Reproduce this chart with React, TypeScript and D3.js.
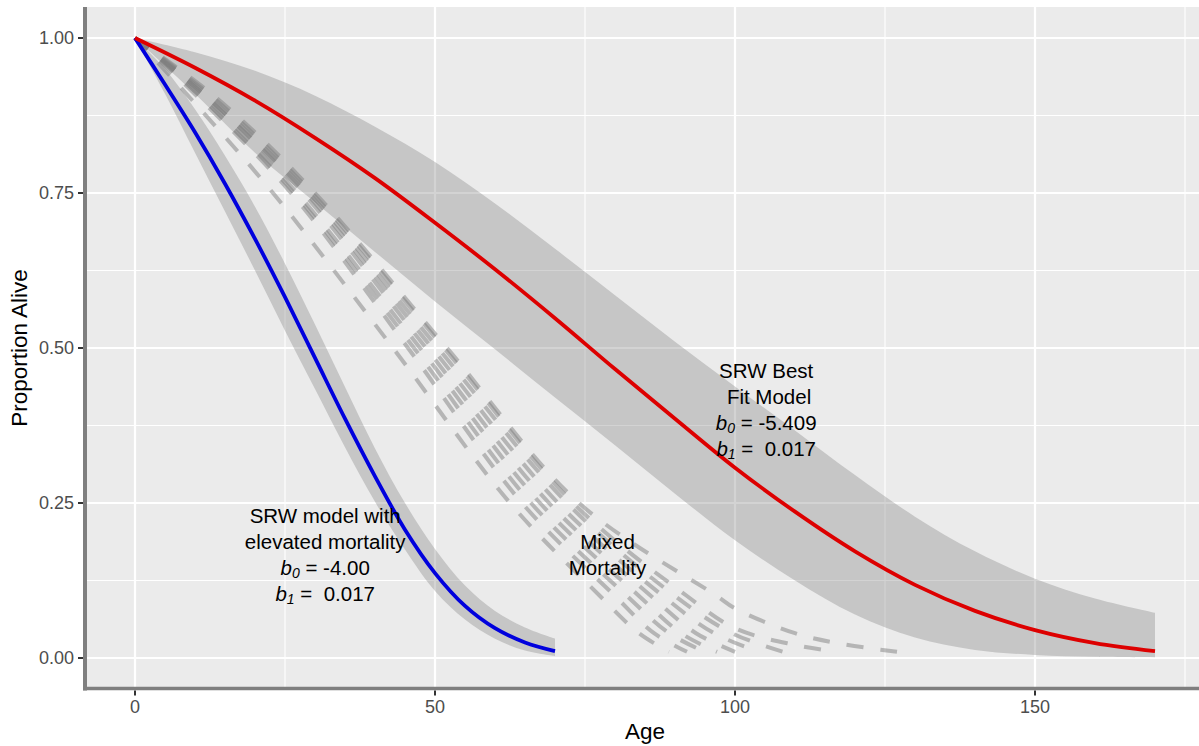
import React from 'react';
import * as d3 from 'd3';

// axis ticks
const xMajor = [0, 50, 100, 150];
const xMinor = [25, 75, 125, 175];
const yMajor = [0, 0.25, 0.5, 0.75, 1];
const yMinor = [0.125, 0.375, 0.625, 0.875];
const yTickLabels = ['0.00', '0.25', '0.50', '0.75', '1.00'];

// SRW best fit model (red) with its band
const redAges = [0, 10, 20, 30, 40, 50, 60, 70, 80, 90, 100, 110, 120, 130, 140, 150, 160, 170];
const redFit = [1.0, 0.952, 0.899, 0.839, 0.774, 0.702, 0.627, 0.548, 0.466, 0.386, 0.307, 0.236, 0.172, 0.118, 0.076, 0.045, 0.024, 0.011];
const redLower = [1.0, 0.91, 0.815, 0.735, 0.655, 0.575, 0.498, 0.42, 0.343, 0.265, 0.19, 0.125, 0.07, 0.033, 0.013, 0.005, 0.002, 0.001];
const redUpper = [1.0, 0.977, 0.947, 0.907, 0.857, 0.8, 0.733, 0.66, 0.585, 0.51, 0.438, 0.367, 0.295, 0.228, 0.172, 0.128, 0.096, 0.073];

// SRW model with elevated mortality (blue) with its band
const blueAges = [0, 5, 10, 15, 20, 25, 30, 35, 40, 45, 50, 55, 60, 65, 70];
const blueFit = [1.0, 0.925, 0.848, 0.765, 0.676, 0.582, 0.484, 0.386, 0.293, 0.207, 0.137, 0.084, 0.048, 0.025, 0.011];
const blueLower = [1.0, 0.91, 0.815, 0.72, 0.625, 0.528, 0.434, 0.34, 0.252, 0.175, 0.108, 0.062, 0.031, 0.012, 0.003];
const blueUpper = [1.0, 0.95, 0.885, 0.81, 0.728, 0.636, 0.538, 0.437, 0.338, 0.25, 0.176, 0.117, 0.076, 0.049, 0.031];

// mixed mortality runs: [age, proportion alive]
const mixed1: [number, number][] = [[0, 1], [9.5, 0.9], [23, 0.75], [43, 0.5], [62.5, 0.25], [77.5, 0.1], [84, 0.04], [89, 0.01]];
const mixed2: [number, number][] = [[0, 1], [11, 0.9], [26, 0.75], [45.5, 0.5], [64.5, 0.25], [80, 0.1], [86.5, 0.04], [92, 0.01]];
const mixed3: [number, number][] = [[0, 1], [11.5, 0.9], [26.5, 0.75], [46.5, 0.5], [66, 0.25], [82, 0.1], [89, 0.04], [95, 0.01]];
const mixed4: [number, number][] = [[0, 1], [12, 0.9], [27, 0.75], [47.5, 0.5], [67.5, 0.25], [84, 0.1], [91, 0.04], [97, 0.01]];
const mixed5: [number, number][] = [[0, 1], [12.5, 0.9], [28, 0.75], [48.5, 0.5], [69, 0.25], [86, 0.1], [93.5, 0.04], [100, 0.01]];
const mixed6: [number, number][] = [[0, 1], [12.5, 0.9], [28.5, 0.75], [49.5, 0.5], [70.5, 0.25], [88, 0.1], [96.5, 0.04], [104, 0.01]];
const mixed7: [number, number][] = [[0, 1], [13, 0.9], [29, 0.75], [50.5, 0.5], [72, 0.25], [90, 0.1], [99.5, 0.04], [108, 0.01]];
const mixed8: [number, number][] = [[0, 1], [13.5, 0.9], [29.5, 0.75], [51.5, 0.5], [73, 0.25], [92, 0.1], [100, 0.048], [110, 0.021], [117, 0.01]];
const mixed9: [number, number][] = [[0, 1], [14, 0.9], [30, 0.75], [52, 0.5], [74, 0.25], [97, 0.1], [100, 0.08], [110, 0.04], [117, 0.024], [127, 0.01]];
const mixedRuns = [mixed1, mixed2, mixed3, mixed4, mixed5, mixed6, mixed7, mixed8, mixed9];

// annotation text
const bestFitTitle = ['SRW Best', '\u00a0Fit Model'];
const bestFitCoef = ['-5.409', '\u00a00.017'];
const elevatedTitle = ['SRW model with', 'elevated mortality'];
const elevatedCoef = ['-4.00', '\u00a00.017'];
const mixedTitle = ['Mixed', 'Mortality'];

const FONT = '"Liberation Sans", Arial, Helvetica, sans-serif';
const LINE_H = 26;

const App: React.FC = () => {
    const width = 1199;
    const height = 746;
    const panel = { left: 84, right: 1206, top: 7, bottom: 689 };

    const x = d3.scaleLinear().domain([-8.5, 178.5]).range([panel.left, panel.right]);
    const y = d3.scaleLinear().domain([-0.05, 1.05]).range([panel.bottom, panel.top]);

    const smooth = d3.curveCatmullRom.alpha(0.5);

    const line = d3.line<[number, number]>()
        .x(d => x(d[0]))
        .y(d => y(d[1]))
        .curve(smooth);

    const bandPath = (ages: number[], lo: number[], hi: number[]) =>
        d3.area<number>()
            .x(i => x(ages[i]))
            .y0(i => y(lo[i]))
            .y1(i => y(hi[i]))
            .curve(smooth)(ages.map((_, i) => i)) || '';

    const zipPts = (ages: number[], vals: number[]) => ages.map((a, i) => [a, vals[i]] as [number, number]);

    // text block: titles plus optional b0/b1 lines, vertically centred on (age, value)
    const Block = ({ age, value, title, coef }: { age: number; value: number; title: string[]; coef?: string[] }) => {
        const n = title.length + (coef ? coef.length : 0);
        const cx = x(age);
        const cy = y(value);
        const base = (i: number) => cy + (i - (n - 1) / 2) * LINE_H + 7.4;
        return (
            <g fontFamily={FONT} fontSize={20.5} fill="#000" textAnchor="middle">
                {title.map((t, i) => (
                    <text key={'t' + i} x={cx} y={base(i)}>{t}</text>
                ))}
                {coef && coef.map((c, j) => (
                    <text key={'c' + j} x={cx} y={base(title.length + j)}>
                        <tspan fontStyle="italic">b</tspan>
                        <tspan fontStyle="italic" fontSize={14} dy={3}>{j}</tspan>
                        <tspan dy={-3}>{'\u00a0=\u00a0' + c}</tspan>
                    </text>
                ))}
            </g>
        );
    };

    return (
        <svg width={width} height={height} style={{ position: 'absolute', left: 0, top: 0, background: '#fff' }}>
            <defs>
                <clipPath id="panel-clip">
                    <rect x={panel.left} y={panel.top} width={panel.right - panel.left} height={panel.bottom - panel.top} />
                </clipPath>
            </defs>

            {/* panel */}
            <rect x={panel.left} y={panel.top} width={panel.right - panel.left} height={panel.bottom - panel.top} fill="#ebebeb" />
            {xMinor.map(v => (
                <line key={'xm' + v} x1={x(v)} x2={x(v)} y1={panel.top} y2={panel.bottom} stroke="#fff" strokeWidth={1.1} />
            ))}
            {yMinor.map(v => (
                <line key={'ym' + v} x1={panel.left} x2={panel.right} y1={y(v)} y2={y(v)} stroke="#fff" strokeWidth={1.1} />
            ))}
            {xMajor.map(v => (
                <line key={'xM' + v} x1={x(v)} x2={x(v)} y1={panel.top} y2={panel.bottom} stroke="#fff" strokeWidth={2.2} />
            ))}
            {yMajor.map(v => (
                <line key={'yM' + v} x1={panel.left} x2={panel.right} y1={y(v)} y2={y(v)} stroke="#fff" strokeWidth={2.2} />
            ))}

            <g clipPath="url(#panel-clip)">
                {/* confidence bands */}
                <path d={bandPath(redAges, redLower, redUpper)} fill="#7f7f7f" fillOpacity={0.34} />
                <path d={bandPath(blueAges, blueLower, blueUpper)} fill="#7f7f7f" fillOpacity={0.34} />

                {/* mixed mortality runs */}
                {mixedRuns.map((run, i) => (
                    <path key={'mx' + i} d={line(run) || ''} fill="none" stroke="#7f7f7f" strokeOpacity={0.5}
                        strokeWidth={4} strokeDasharray="17,17" />
                ))}

                {/* model fits */}
                <path d={line(zipPts(blueAges, blueFit)) || ''} fill="none" stroke="#0000dd" strokeWidth={3.8} />
                <path d={line(zipPts(redAges, redFit)) || ''} fill="none" stroke="#dd0000" strokeWidth={3.8} />
            </g>

            <Block age={105.2} value={0.4} title={bestFitTitle} coef={bestFitCoef} />
            <Block age={31.7} value={0.167} title={elevatedTitle} coef={elevatedCoef} />
            <Block age={78.75} value={0.167} title={mixedTitle} />

            {/* axis lines */}
            <line x1={85} x2={85} y1={panel.top} y2={690.5} stroke="#7f7f7f" strokeWidth={4} />
            <line x1={83} x2={width} y1={688.5} y2={688.5} stroke="#7f7f7f" strokeWidth={3.6} />

            {/* y axis */}
            {yMajor.map((v, i) => (
                <g key={'yt' + v}>
                    <line x1={78} x2={83} y1={y(v)} y2={y(v)} stroke="#333" strokeWidth={2} />
                    <text x={74} y={y(v)} dy="0.36em" textAnchor="end" fontFamily={FONT} fontSize={18} fill="#4d4d4d">
                        {yTickLabels[i]}
                    </text>
                </g>
            ))}
            {/* x axis */}
            {xMajor.map(v => (
                <g key={'xt' + v}>
                    <line x1={x(v)} x2={x(v)} y1={690.5} y2={695.5} stroke="#333" strokeWidth={2} />
                    <text x={x(v)} y={713} textAnchor="middle" fontFamily={FONT} fontSize={18} fill="#4d4d4d">
                        {v}
                    </text>
                </g>
            ))}

            <text x={(panel.left + panel.right) / 2} y={739} textAnchor="middle" fontFamily={FONT} fontSize={22.5} fill="#000">
                Age
            </text>
            <text transform={`translate(27,${(panel.top + panel.bottom) / 2}) rotate(-90)`} textAnchor="middle"
                fontFamily={FONT} fontSize={22.5} fill="#000">
                Proportion Alive
            </text>
        </svg>
    );
};

export default App;
